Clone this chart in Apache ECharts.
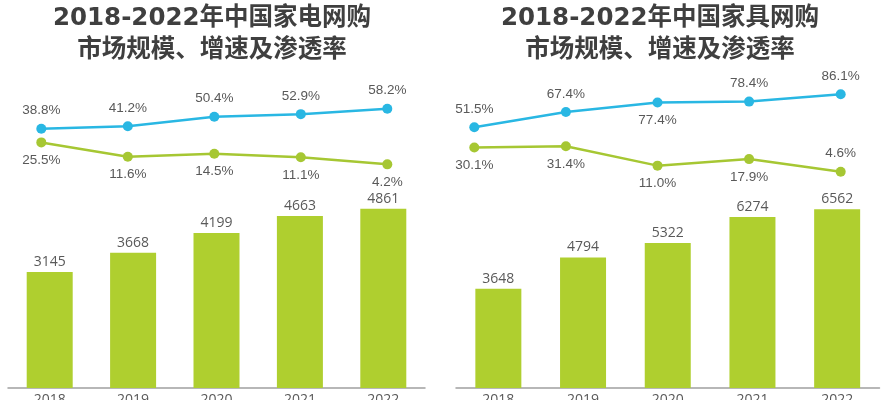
<!DOCTYPE html>
<html>
<head>
<meta charset="utf-8">
<script src="https://cdn.jsdelivr.net/npm/echarts@6/dist/echarts.min.js"></script>
<style>html,body{margin:0;padding:0;background:#fff;}#c{width:881px;height:400px;}</style>
</head>
<body>
<div id="c"></div>
<script>
var years = ['2018', '2019', '2020', '2021', '2022'];
var titleLeft = '2018-2022年中国家电网购\n市场规模、增速及渗透率';
var titleRight = '2018-2022年中国家具网购\n市场规模、增速及渗透率';
var applianceScale = [3145, 3668, 4199, 4663, 4861];
var applianceGrowth = [25.5, 11.6, 14.5, 11.1, 4.2];
var appliancePenetration = [38.8, 41.2, 50.4, 52.9, 58.2];
var furnitureScale = [3648, 4794, 5322, 6274, 6562];
var furnitureGrowth = [30.1, 31.4, 11.0, 17.9, 4.6];
var furniturePenetration = [51.5, 67.4, 77.4, 78.4, 86.1];
// label placement per point (top / bottom)
var furniturePenPos = ['top', 'top', 'bottom', 'top', 'top'];
var furnitureGrowthPos = ['bottom', 'bottom', 'bottom', 'bottom', 'top'];

var CYAN = '#29b7e3', LINEGREEN = '#a6c733', BARGREEN = '#afcf2f', TXT = '#595959';
var lineFont = '"Liberation Sans", Arial, sans-serif';
var barFont = '"Open Sans", sans-serif';

function lineData(vals, pos) {
  return vals.map(function (v, i) {
    var p = pos ? pos[i] : null;
    return p ? { value: v, label: { position: p } } : v;
  });
}
function lineSeries(vals, color, grid, defPos, pos) {
  return {
    type: 'line', xAxisIndex: grid, yAxisIndex: grid,
    data: lineData(vals, pos), symbol: 'circle', symbolSize: 10,
    lineStyle: { color: color, width: 2.5 }, itemStyle: { color: color },
    label: { show: true, position: defPos, distance: 6, color: TXT, fontSize: 13.5,
      fontFamily: lineFont, formatter: function (p) { return p.value.toFixed(1) + '%'; } },
    z: 5
  };
}
function barSeries(vals, grid) {
  return {
    type: 'bar', xAxisIndex: grid, yAxisIndex: grid, data: vals, barWidth: 46,
    itemStyle: { color: BARGREEN },
    label: { show: true, position: 'top', distance: 3, color: TXT, fontSize: 14, fontFamily: barFont }
  };
}
var titleStyle = { fontSize: 24.5, fontWeight: 'bold', color: '#3f3f3f', lineHeight: 31.6,
  fontFamily: '"DejaVu Sans", "Noto Sans CJK SC", sans-serif' };

var chart = echarts.init(document.getElementById('c'), null, { renderer: 'canvas' });
chart.setOption({
  animation: false,
  backgroundColor: '#fff',
  title: [
    { text: titleLeft, left: 212, top: 3, padding: 0, textAlign: 'center', textStyle: titleStyle },
    { text: titleRight, left: 660, top: 3, padding: 0, textAlign: 'center', textStyle: titleStyle }
  ],
  grid: [
    { left: 8, top: 92.8, width: 417, height: 295.2, outerBoundsMode: 'none', containLabel: false },
    { left: 456, top: 115.6, width: 423.5, height: 272.4, outerBoundsMode: 'none', containLabel: false },
    { left: 41.3, top: 65.6, width: 346, height: 103.1, outerBoundsMode: 'none', containLabel: false },
    { left: 474.3, top: 81.1, width: 366.4, height: 95, outerBoundsMode: 'none', containLabel: false }
  ],
  xAxis: [
    { type: 'category', gridIndex: 0, data: years, axisTick: { show: false },
      axisLine: { lineStyle: { color: '#a0a0a0', width: 1.5 } },
      axisLabel: { color: TXT, fontSize: 14, fontFamily: barFont, margin: 5 } },
    { type: 'category', gridIndex: 1, data: years, axisTick: { show: false },
      axisLine: { lineStyle: { color: '#a0a0a0', width: 1.5 } },
      axisLabel: { color: TXT, fontSize: 14, fontFamily: barFont, margin: 5 } },
    { type: 'category', gridIndex: 2, data: years, boundaryGap: false, show: false },
    { type: 'category', gridIndex: 3, data: years, boundaryGap: false, show: false }
  ],
  yAxis: [
    { type: 'value', gridIndex: 0, min: 0, max: 8000, show: false, splitLine: { show: false } },
    { type: 'value', gridIndex: 1, min: 0, max: 10000, show: false, splitLine: { show: false } },
    { type: 'value', gridIndex: 2, min: 0, max: 100, show: false, splitLine: { show: false } },
    { type: 'value', gridIndex: 3, min: 0, max: 100, show: false, splitLine: { show: false } }
  ],
  series: [
    barSeries(applianceScale, 0),
    barSeries(furnitureScale, 1),
    lineSeries(appliancePenetration, CYAN, 2, 'top'),
    lineSeries(applianceGrowth, LINEGREEN, 2, 'bottom'),
    lineSeries(furniturePenetration, CYAN, 3, 'top', furniturePenPos),
    lineSeries(furnitureGrowth, LINEGREEN, 3, 'bottom', furnitureGrowthPos)
  ]
});
</script>
</body>
</html>
